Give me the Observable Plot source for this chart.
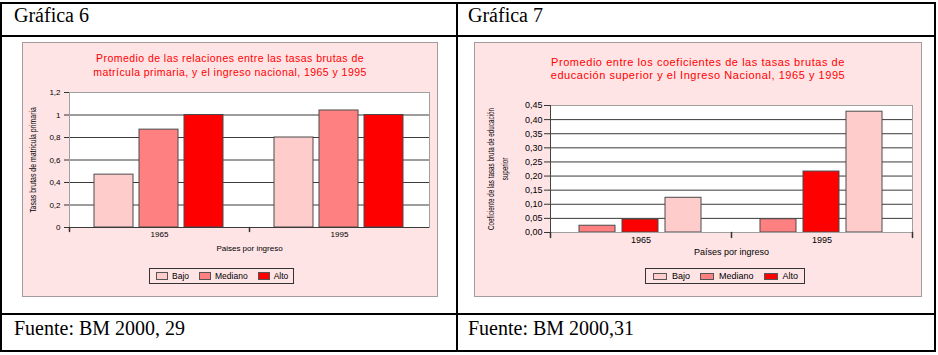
<!DOCTYPE html>
<html><head><meta charset="utf-8">
<script src="https://cdn.jsdelivr.net/npm/d3@7"></script>
<script src="https://cdn.jsdelivr.net/npm/@observablehq/plot@0.6"></script>
<style>
body{margin:0;background:#fff;}
#page{position:relative;width:938px;height:355px;overflow:hidden;font-family:"Liberation Sans",Arial,sans-serif;}
.ln{position:absolute;background:#000;}
.cell{position:absolute;font-family:"Liberation Serif","Times New Roman",serif;font-size:20px;line-height:24px;color:#000;white-space:nowrap;}
.box{position:absolute;box-sizing:border-box;border:1px solid #a49c9c;background:#ffe4e6;}
.box svg{position:absolute;left:0;top:0;}
.title{position:absolute;left:0;right:0;text-align:center;color:#ff0000;white-space:nowrap;}
.legend{position:absolute;display:flex;align-items:center;box-sizing:border-box;border:1px solid #333;height:16px;color:#000;white-space:nowrap;}
.sw{box-sizing:border-box;border:1px solid #555;flex:none;}
</style></head>
<body>
<div id="page">
  <div class="ln" style="left:0;top:2px;width:936px;height:2px"></div>
  <div class="ln" style="left:0;top:35px;width:936px;height:2px"></div>
  <div class="ln" style="left:0;top:313px;width:936px;height:2px"></div>
  <div class="ln" style="left:0;top:350px;width:936px;height:2px"></div>
  <div class="ln" style="left:0;top:2px;width:2px;height:350px"></div>
  <div class="ln" style="left:456px;top:2px;width:2px;height:350px"></div>
  <div class="ln" style="left:934px;top:2px;width:2px;height:350px"></div>
  <div class="cell" id="h6" style="left:14px;top:3px"></div>
  <div class="cell" id="h7" style="left:468px;top:3px"></div>
  <div class="cell" id="f6" style="left:14px;top:316px"></div>
  <div class="cell" id="f7" style="left:468px;top:316px"></div>
  <div class="box" id="box6" style="left:22px;top:42px;width:416px;height:255px"></div>
  <div class="box" id="box7" style="left:474px;top:42px;width:448px;height:255px"></div>
</div>
<script>
// ---- data ----
const years = ["1965", "1995"];
const levels = ["Bajo", "Mediano", "Alto"];
const levelColors = ["#ffcccc", "#ff8080", "#ff0000"];

const primariaBajo = [0.47, 0.80];
const primariaMediano = [0.87, 1.04];
const primariaAlto = [1.00, 1.00];

const superiorBajo = [0.123, 0.428];
const superiorMediano = [0.024, 0.047];
const superiorAlto = [0.046, 0.216];

const ticks6 = [0, 0.2, 0.4, 0.6, 0.8, 1, 1.2];
const grid6 = [0, 0.2, 0.4, 0.6, 0.8, 1];
const ticks7 = [0, 0.05, 0.10, 0.15, 0.20, 0.25, 0.30, 0.35, 0.40, 0.45];
const order6 = ["Bajo", "Mediano", "Alto"];
const order7 = ["Mediano", "Alto", "Bajo"];

const heading6 = "Gráfica 6";
const heading7 = "Gráfica 7";
const source6 = "Fuente: BM 2000, 29";
const source7 = "Fuente: BM 2000,31";
const title6 = ["Promedio de las relaciones entre las tasas brutas de", "matrícula primaria, y el ingreso nacional, 1965 y 1995"];
const title7 = ["Promedio entre los coeficientes de las tasas brutas de", "educación superior y el Ingreso Nacional, 1965 y 1995"];
const yLabel6 = ["Tasas brutas de matricula primaria"];
const yLabel7 = ["Coeficiente de las tasas bruta de educación", "superior"];
const xLabel6 = "Paises por ingreso";
const xLabel7 = "Países por ingreso";

// ---- helpers ----
const es = d3.formatLocale({decimal: ",", thousands: ".", grouping: [3], currency: ["", "€"]});
const fmt6 = es.format("~g");
const fmt7 = es.format(".2f");

function rows(bajo, mediano, alto) {
  const s = {Bajo: bajo, Mediano: mediano, Alto: alto};
  return years.flatMap((y, i) => levels.map(l => ({year: y, level: l, value: s[l][i]})));
}

function tickShape() {
  return {draw(context, l) { context.moveTo(0, 0); context.lineTo(0, -l); }};
}

// condense a (rotated) label along its reading direction, keeping its centre
function squeeze(svg, label, k) {
  for (const t of svg.querySelectorAll("text")) {
    if (t.textContent === label) {
      const tr = t.getAttribute("transform") || "";
      t.setAttribute("transform", tr + ` scale(${k},1)`);
    }
  }
}

function addTitle(box, lines, top, fs, lh, ls) {
  const d = document.createElement("div");
  d.className = "title";
  d.style.top = top + "px";
  d.style.fontSize = fs + "px";
  d.style.lineHeight = lh + "px";
  d.style.letterSpacing = ls + "px";
  d.innerHTML = lines.map(s => `<div>${s}</div>`).join("");
  box.appendChild(d);
}

function addLegend(box, o) {
  const d = document.createElement("div");
  d.className = "legend";
  d.style.left = o.left + "px";
  d.style.top = o.top + "px";
  d.style.padding = `0 ${o.padR}px 0 ${o.padL}px`;
  d.style.fontSize = o.fs + "px";
  levels.forEach((l, i) => {
    const sw = document.createElement("div");
    sw.className = "sw";
    sw.style.width = o.sw + "px";
    sw.style.height = o.sh + "px";
    sw.style.background = levelColors[i];
    sw.style.marginLeft = (i === 0 ? 0 : o.gap) + "px";
    sw.style.marginRight = o.lg + "px";
    const sp = document.createElement("span");
    sp.textContent = l;
    d.appendChild(sw); d.appendChild(sp);
  });
  box.appendChild(d);
}

document.getElementById("h6").textContent = heading6;
document.getElementById("h7").textContent = heading7;
document.getElementById("f6").textContent = source6;
document.getElementById("f7").textContent = source7;

// ---- Gráfica 6 ----
const box6 = document.getElementById("box6");
const svg6 = Plot.plot({
  width: 414, height: 220,
  marginLeft: 45, marginRight: 8, marginTop: 49, marginBottom: 36,
  style: {background: "transparent", fontFamily: "Liberation Sans, Arial, sans-serif", overflow: "visible", color: "#000"},
  fx: {domain: years, padding: 0},
  x: {domain: order6, paddingInner: 0.13, paddingOuter: 0.527, axis: null},
  y: {domain: [0, 1.2]},
  color: {domain: levels, range: levelColors},
  marks: [
    Plot.frame({facet: "super", fill: "white", stroke: null}),
    Plot.gridY(grid6, {stroke: "#3a3a3a", strokeOpacity: 1}),
    Plot.barY(rows(primariaBajo, primariaMediano, primariaAlto), {fx: "year", x: "level", y: "value", fill: "level", stroke: "#4a4a4a", strokeWidth: 1}),
    Plot.frame({facet: "super", stroke: "#a0a0a0"}),
    Plot.ruleY([0], {stroke: "#3a3a3a"}),
    Plot.axisY(ticks6, {tickSize: 5, tickPadding: 4, tickFormat: fmt6, fontSize: 8, label: null, stroke: "#333"}),
    Plot.vector([0], {frameAnchor: "bottom-left", length: 4, rotate: 180, anchor: "start", shape: tickShape(), stroke: "#333"}),
    Plot.axisFx({anchor: "bottom", tickSize: 0, tickPadding: 4, fontSize: 8, label: null}),
    Plot.text([xLabel6], {facet: "super", frameAnchor: "bottom", dy: 23, fontSize: 8, text: d => d}),
    Plot.text(yLabel6, {facet: "super", frameAnchor: "left", textAnchor: "middle", rotate: -90, dx: -36, fontSize: 9, text: d => d})
  ]
});
box6.appendChild(svg6);
squeeze(svg6, yLabel6[0], 0.77);
addTitle(box6, title6, 8, 10.5, 14, 0.45);
addLegend(box6, {left: 126, top: 225, padL: 6, padR: 5, fs: 8.5, sw: 12, sh: 8, lg: 4, gap: 10});

// ---- Gráfica 7 ----
const box7 = document.getElementById("box7");
const svg7 = Plot.plot({
  width: 446, height: 225,
  marginLeft: 74, marginRight: 9, marginTop: 62, marginBottom: 36,
  style: {background: "transparent", fontFamily: "Liberation Sans, Arial, sans-serif", overflow: "visible", color: "#000"},
  fx: {domain: years, padding: 0},
  x: {domain: order7, paddingInner: 0.159, paddingOuter: 0.642, axis: null},
  y: {domain: [0, 0.45]},
  color: {domain: levels, range: levelColors},
  marks: [
    Plot.frame({facet: "super", fill: "white", stroke: null}),
    Plot.gridY(ticks7, {stroke: "#3a3a3a", strokeOpacity: 1}),
    Plot.barY(rows(superiorBajo, superiorMediano, superiorAlto), {fx: "year", x: "level", y: "value", fill: "level", stroke: "#4a4a4a", strokeWidth: 1}),
    Plot.frame({facet: "super", stroke: "#a0a0a0"}),
    Plot.frame({facet: "super", anchor: "left", stroke: "#444"}),
    Plot.axisY(ticks7, {tickSize: 6, tickPadding: 2, tickFormat: fmt7, fontSize: 9, label: null, stroke: "#333"}),
    Plot.vector([0], {frameAnchor: "bottom-left", length: 5, rotate: 180, anchor: "start", shape: tickShape(), stroke: "#333"}),
    Plot.vector([0], {facet: "super", frameAnchor: "bottom-right", length: 5, rotate: 180, anchor: "start", shape: tickShape(), stroke: "#333"}),
    Plot.axisFx({anchor: "bottom", tickSize: 0, tickPadding: 4, fontSize: 9, label: null}),
    Plot.text([xLabel7], {facet: "super", frameAnchor: "bottom", dy: 22, fontSize: 9, text: d => d}),
    Plot.text([yLabel7[0]], {facet: "super", frameAnchor: "left", textAnchor: "middle", rotate: -90, dx: -59, fontSize: 9, text: d => d}),
    Plot.text([yLabel7[1]], {facet: "super", frameAnchor: "left", textAnchor: "middle", rotate: -90, dx: -45, fontSize: 9, text: d => d})
  ]
});
box7.appendChild(svg7);
squeeze(svg7, yLabel7[0], 0.7);
squeeze(svg7, yLabel7[1], 0.7);
addTitle(box7, title7, 13, 11, 12.5, 0.55);
addLegend(box7, {left: 170, top: 225, padL: 7, padR: 6, fs: 9, sw: 14, sh: 7, lg: 5, gap: 10});
</script>
</body></html>
